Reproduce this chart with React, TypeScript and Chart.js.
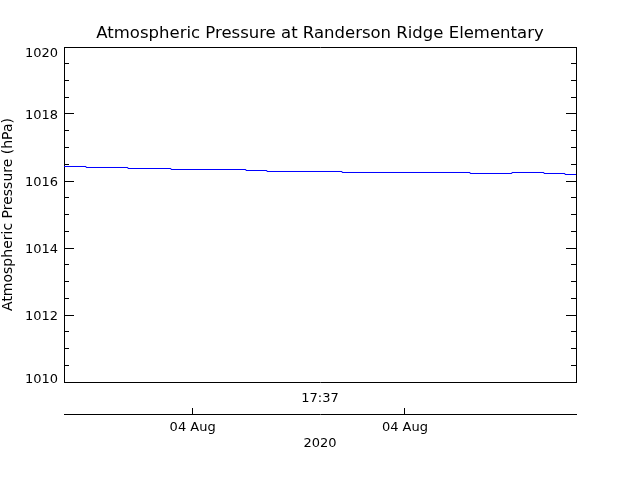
import React, { useEffect, useRef } from 'react';
import { Chart, registerables } from 'chart.js';

Chart.register(...registerables);

const chartTitle = 'Atmospheric Pressure at Randerson Ridge Elementary';
const yAxisTitle = 'Atmospheric Pressure (hPa)';
const timeLabel = '17:37';
const yearLabel = '2020';

// time in minutes (relative), pressure in hPa
const timeValues = [3.94, 4.98, 6.95, 8.98, 12.51, 13.5, 17.04, 23.07, 25.04, 26.55, 27.54, 28.06];
const pressureValues = [1016.433, 1016.403, 1016.373, 1016.343, 1016.313, 1016.284, 1016.254, 1016.224, 1016.254, 1016.224, 1016.194, 1016.194];

const dateTickValues = [10, 20];
const dateTickLabels = ['04 Aug', '04 Aug'];

const xMin = 3.94;
const xMax = 28.06;
const yMin = 1010;
const yMax = 1020;
const yMajorStep = 2;
const yMinorStep = 0.5;

const FONT = 'DejaVu Sans';
const BLACK = '#000000';

export default function App() {
  const canvasRef = useRef<HTMLCanvasElement | null>(null);

  useEffect(() => {
    document.body.style.margin = '0';
    const canvas = canvasRef.current;
    if (!canvas) return;
    Chart.defaults.font.family = FONT;
    Chart.defaults.color = BLACK;

    const tickFont = { family: FONT, size: 13 };
    const yLabelFont = { family: FONT, size: 13, lineHeight: 0.7 };

    const chart = new Chart(canvas, {
      type: 'line',
      data: {
        datasets: [
          {
            data: timeValues.map((t, i) => ({ x: t, y: pressureValues[i] })),
            borderColor: '#0000ff',
            borderWidth: 1,
            pointRadius: 0,
            fill: false,
            stepped: true,
            xAxisID: 'x',
            yAxisID: 'y',
          },
        ],
      },
      options: {
        animation: false,
        responsive: true,
        maintainAspectRatio: false,
        layout: { padding: 0 },
        plugins: {
          legend: { display: false },
          tooltip: { enabled: false },
          title: {
            display: true,
            text: chartTitle,
            color: BLACK,
            font: { family: FONT, size: 16.5, weight: 'normal', lineHeight: 1.2 },
            padding: { top: 24, bottom: 3.2 },
          },
        },
        scales: {
          xTop: {
            type: 'linear',
            position: 'top',
            min: xMin,
            max: xMax,
            grid: { display: false },
            ticks: { display: false },
            border: { display: true, color: BLACK, width: 1 },
            afterFit: (s: any) => {
              s.height = 0;
            },
          },
          x: {
            type: 'linear',
            position: 'bottom',
            weight: 0,
            min: xMin,
            max: xMax,
            grid: { display: false },
            ticks: { display: false },
            border: { display: true, color: BLACK, width: 1 },
            title: {
              display: true,
              text: timeLabel,
              color: BLACK,
              font: tickFont,
              padding: { top: 0, bottom: 8 },
            },
            afterFit: (s: any) => {
              s.height = 32;
            },
          },
          x2: {
            type: 'linear',
            position: 'bottom',
            weight: 1,
            min: xMin,
            max: xMax,
            afterBuildTicks: (s: any) => {
              s.ticks = dateTickValues.map((v) => ({ value: v }));
            },
            grid: {
              display: true,
              drawOnChartArea: false,
              drawTicks: true,
              tickLength: -6,
              color: BLACK,
            },
            ticks: {
              color: BLACK,
              font: tickFont,
              padding: 12,
              maxRotation: 0,
              autoSkip: false,
              callback: (_v: any, i: number) => dateTickLabels[i],
            },
            border: { display: true, color: BLACK, width: 1 },
            title: {
              display: true,
              text: yearLabel,
              color: BLACK,
              font: tickFont,
              padding: { top: 0, bottom: 29 },
            },
            afterFit: (s: any) => {
              s.height = 66;
            },
          },
          y: {
            type: 'linear',
            position: 'left',
            weight: 1,
            min: yMin,
            max: yMax,
            ticks: {
              stepSize: yMajorStep,
              color: BLACK,
              font: yLabelFont,
              padding: 16,
              labelOffset: 2,
              callback: (v: any) => {
                const s = String(v);
                if (v === yMax) return ['', s];
                if (v === yMin) return [s, ''];
                return s;
              },
            },
            grid: {
              display: true,
              drawOnChartArea: false,
              drawTicks: true,
              tickLength: -10,
              color: BLACK,
            },
            border: { display: true, color: BLACK, width: 1 },
            title: {
              display: true,
              text: yAxisTitle,
              color: BLACK,
              font: { family: FONT, size: 14 },
              padding: { top: 0, bottom: 0 },
            },
            afterFit: (s: any) => {
              s.width = 64;
            },
          },
          yMinor: {
            type: 'linear',
            position: 'left',
            weight: 0,
            min: yMin,
            max: yMax,
            ticks: { display: false, stepSize: yMinorStep },
            grid: {
              display: true,
              drawOnChartArea: false,
              drawTicks: true,
              tickLength: -5,
              color: BLACK,
            },
            border: { display: false },
            afterFit: (s: any) => {
              s.width = 0;
            },
          },
          y2: {
            type: 'linear',
            position: 'right',
            weight: 1,
            min: yMin,
            max: yMax,
            ticks: { display: false, stepSize: yMajorStep },
            grid: {
              display: true,
              drawOnChartArea: false,
              drawTicks: true,
              tickLength: -10,
              color: BLACK,
            },
            border: { display: true, color: BLACK, width: 1 },
            afterFit: (s: any) => {
              s.width = 64;
            },
          },
          y2Minor: {
            type: 'linear',
            position: 'right',
            weight: 0,
            min: yMin,
            max: yMax,
            ticks: { display: false, stepSize: yMinorStep },
            grid: {
              display: true,
              drawOnChartArea: false,
              drawTicks: true,
              tickLength: -5,
              color: BLACK,
            },
            border: { display: false },
            afterFit: (s: any) => {
              s.width = 0;
            },
          },
        },
      } as any,
    });

    return () => {
      chart.destroy();
    };
  }, []);

  return (
    <div style={{ position: 'absolute', left: 0, top: 0, width: 640, height: 480, background: '#ffffff' }}>
      <canvas ref={canvasRef} />
    </div>
  );
}
